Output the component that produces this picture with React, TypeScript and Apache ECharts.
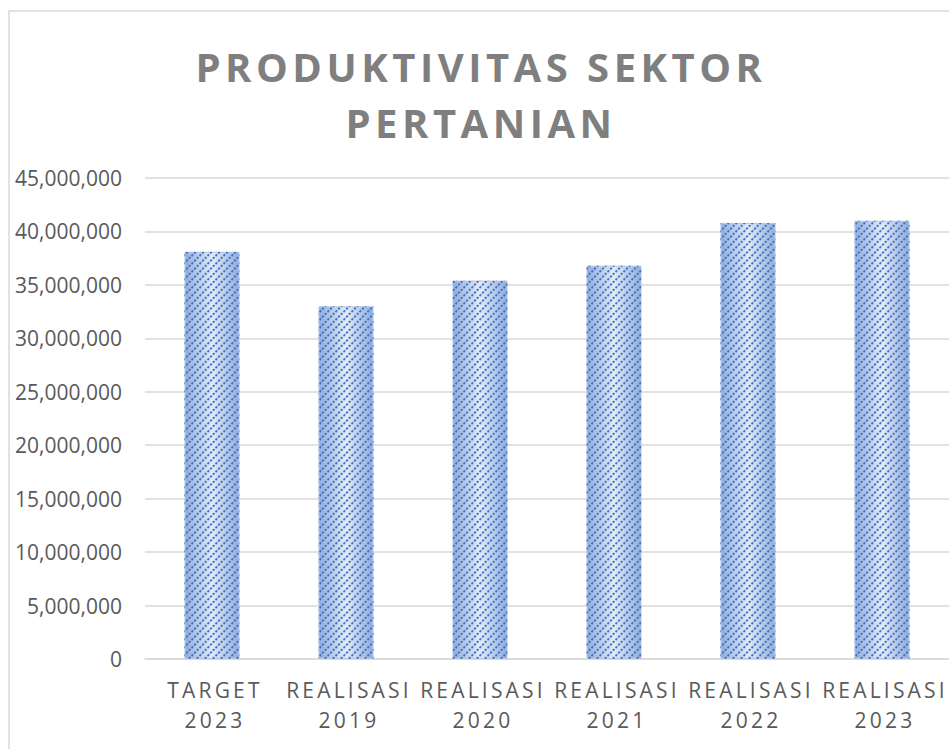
import React, { useEffect, useRef } from "react";
import * as echarts from "echarts";

const categories = [
  "TARGET\n2023",
  "REALISASI\n2019",
  "REALISASI\n2020",
  "REALISASI\n2021",
  "REALISASI\n2022",
  "REALISASI\n2023",
];
const values = [38100000, 33000000, 35400000, 36800000, 40800000, 41000000];
const yMin = 0;
const yMax = 45000000;
const yInterval = 5000000;
const chartTitle = "PRODUKTIVITAS SEKTOR\nPERTANIAN";

const FONT = "'Open Sans', 'Liberation Sans', sans-serif";

function makeStripeTile(): HTMLCanvasElement {
  const size = 8;
  const c = document.createElement("canvas");
  c.width = size;
  c.height = size;
  const ctx = c.getContext("2d")!;
  ctx.strokeStyle = "#4472c4";
  ctx.lineWidth = 1.9;
  const period = Math.SQRT2 * size;
  ctx.setLineDash([period / 3 * 0.6, period / 3 * 0.4]);
  for (let k = -1; k <= 1; k++) {
    const c0 = size * k + size - 0.5;
    ctx.beginPath();
    // line x + y = c0, drawn from bottom-left to top-right
    ctx.moveTo(c0 - 2 * size, 2 * size);
    ctx.lineTo(c0 + 2 * size, -2 * size);
    ctx.stroke();
  }
  return c;
}

export default function App() {
  const ref = useRef<HTMLDivElement>(null);
  useEffect(() => {
    if (!ref.current) return;
    const chart = echarts.init(ref.current, undefined, { renderer: "svg" });
    const tile = makeStripeTile();
    chart.setOption({
      animation: false,
      backgroundColor: "#ffffff",
      graphic: [
        {
          type: "rect",
          shape: { x: 9, y: 11, width: 1000, height: 1000 },
          style: { fill: "none", stroke: "#d9d9d9", lineWidth: 1.5 },
          silent: true,
        },
        {
          type: "text",
          x: 481,
          y: 94,
          style: {
            text: chartTitle,
            fill: "#7f7f7f",
            font: `bold 40px ${FONT}`,
            lineHeight: 56,
            textAlign: "center",
            textVerticalAlign: "middle",
          },
        },
      ],
      grid: { left: 145, top: 178, height: 481, width: 810, containLabel: false },
      xAxis: {
        type: "category",
        data: categories,
        boundaryGap: true,
        axisLine: { lineStyle: { color: "#d9d9d9", width: 1.5 } },
        axisTick: { show: false },
        axisLabel: {
          interval: 0,
          color: "#5a5a5a",
          fontSize: 21,
          lineHeight: 30,
          margin: 16,
          padding: [0, 0, 0, 6],
          fontFamily: FONT,
        },
      },
      yAxis: {
        type: "value",
        min: yMin,
        max: yMax,
        interval: yInterval,
        axisLine: { show: false },
        axisTick: { show: false },
        splitLine: { lineStyle: { color: "#d9d9d9", width: 1.5 } },
        axisLabel: {
          color: "#595959",
          fontSize: 21,
          margin: 23,
          fontFamily: FONT,
          formatter: (v: number) => v.toLocaleString("en-US"),
        },
      },
      series: [
        {
          type: "bar",
          data: values,
          barWidth: 55,
          barGap: "-100%",
          itemStyle: {
            color: new echarts.graphic.LinearGradient(0, 0, 1, 0, [
              { offset: 0, color: "#8eaddc" },
              { offset: 0.5, color: "#e2eaf6" },
              { offset: 1, color: "#8eaddc" },
            ]),
            borderColor: "#b4c7e7",
            borderWidth: 1,
          },
        },
        {
          type: "bar",
          data: values,
          barWidth: 55,
          barGap: "-100%",
          silent: true,
          itemStyle: {
            color: { image: tile, repeat: "repeat" },
          },
        },
      ],
    });
    return () => chart.dispose();
  }, []);
  return (
    <>
      <style>{`
        text[fill="#7f7f7f"] { letter-spacing: 4.5px; }
        text[fill="#5a5a5a"] { letter-spacing: 3.2px; }
      `}</style>
      <div
        ref={ref}
        style={{ position: "absolute", left: 0, top: 0, width: 949, height: 749 }}
      />
    </>
  );
}
